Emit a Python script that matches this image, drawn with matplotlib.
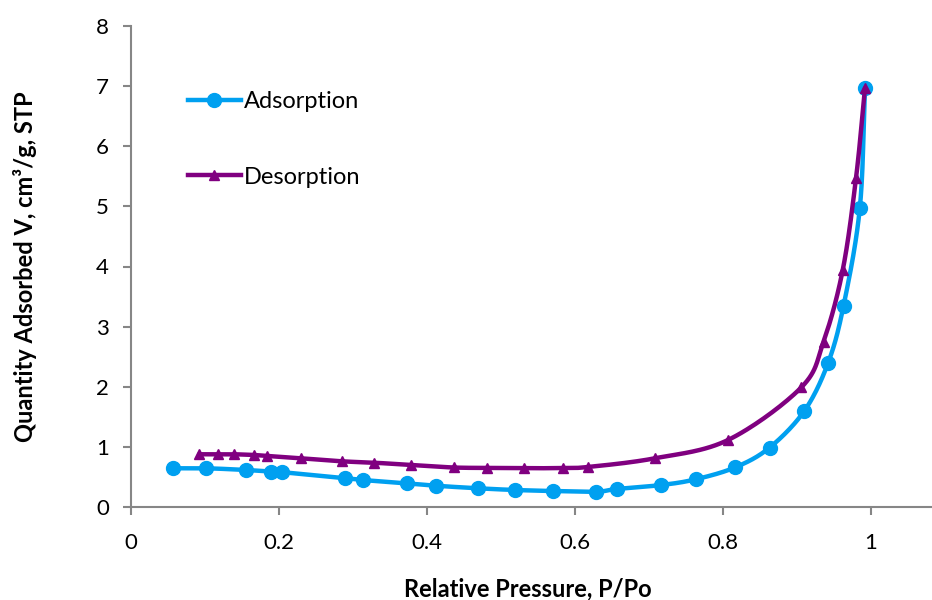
import matplotlib
matplotlib.use("Agg")
import matplotlib.pyplot as plt
import numpy as np

# isotherm data, P/Po vs quantity adsorbed (cm3/g STP)
ads_p = [0.057, 0.101, 0.155, 0.189, 0.204, 0.289, 0.313, 0.373, 0.412, 0.469,
         0.519, 0.570, 0.629, 0.657, 0.717, 0.763, 0.817, 0.863, 0.910, 0.942,
         0.963, 0.985, 0.992]
ads_v = [0.644, 0.644, 0.616, 0.588, 0.579, 0.479, 0.449, 0.394, 0.354, 0.311,
         0.283, 0.266, 0.255, 0.300, 0.366, 0.460, 0.661, 0.987, 1.597, 2.391,
         3.344, 4.968, 6.966]

des_p = [0.092, 0.117, 0.139, 0.166, 0.184, 0.230, 0.285, 0.328, 0.379, 0.436,
         0.481, 0.531, 0.584, 0.617, 0.708, 0.807, 0.906, 0.936, 0.962, 0.980,
         0.992]
des_v = [0.877, 0.877, 0.877, 0.865, 0.849, 0.810, 0.760, 0.737, 0.699, 0.657,
         0.650, 0.644, 0.649, 0.665, 0.810, 1.115, 1.990, 2.750, 3.944, 5.480,
         6.966]

x_ticks = [0, 0.2, 0.4, 0.6, 0.8, 1]
x_labels = ["0", "0.2", "0.4", "0.6", "0.8", "1"]
y_ticks = [0, 1, 2, 3, 4, 5, 6, 7, 8]

blue = "#00A0F0"
purple = "#800080"
grey = "#868686"

plt.rcParams["font.family"] = ["Lato", "DejaVu Sans"]


def smooth_curve(ax, xs, ys, n=30):
    # Catmull-Rom through the points, done in display space so the
    # curve looks even on screen
    pts = ax.transData.transform(np.column_stack([xs, ys]))
    pts = np.vstack([2 * pts[0] - pts[1], pts, 2 * pts[-1] - pts[-2]])
    out = []
    for i in range(1, len(pts) - 2):
        p0, p1, p2, p3 = pts[i - 1], pts[i], pts[i + 1], pts[i + 2]
        t = np.linspace(0, 1, n)[:, None]
        seg = 0.5 * ((2 * p1) + (-p0 + p2) * t
                     + (2 * p0 - 5 * p1 + 4 * p2 - p3) * t ** 2
                     + (-p0 + 3 * p1 - 3 * p2 + p3) * t ** 3)
        out.append(seg)
    out = np.vstack(out)
    data = ax.transData.inverted().transform(out)
    return data[:, 0], data[:, 1]


fig = plt.figure(figsize=(9.32, 6.0), dpi=100)
ax = fig.add_axes([131 / 932, 93 / 600, 1 - 131 / 932, 481 / 600])
ax.set_xlim(0, 1.0826)
ax.set_ylim(0, 8)

sx, sy = smooth_curve(ax, ads_p, ads_v)
ax.plot(sx, sy, color=blue, lw=3.2, solid_capstyle="round", zorder=2)
ax.plot(ads_p, ads_v, "o", color=blue, ms=10, zorder=3)

sx, sy = smooth_curve(ax, des_p, des_v)
ax.plot(sx, sy, color=purple, lw=3.2, solid_capstyle="round", zorder=4)
ax.plot(des_p, des_v, "^", color=purple, ms=7.5, zorder=5)

# legend handles
h1, = ax.plot([], [], "-o", color=blue, lw=3.2, ms=10)
h2, = ax.plot([], [], "-^", color=purple, lw=3.2, ms=7.5)
ax.legend([h1, h2], ["Adsorption", "Desorption"], loc="upper left",
          bbox_to_anchor=(0.059, 0.884), frameon=False, fontsize=17,
          handlelength=2.25, handletextpad=0.15, labelspacing=2.3,
          borderaxespad=0)

for side in ["top", "right"]:
    ax.spines[side].set_visible(False)
for side in ["left", "bottom"]:
    ax.spines[side].set_color(grey)
    ax.spines[side].set_linewidth(1.5)

ax.set_xticks(x_ticks)
ax.set_xticklabels(x_labels)
ax.set_yticks(y_ticks)
ax.tick_params(axis="both", colors=grey, width=1.5, length=6,
               labelsize=16, labelcolor="black", direction="out")
ax.tick_params(axis="x", pad=13)
ax.tick_params(axis="y", pad=10)

ax.set_xlabel("Relative Pressure, P/Po", fontsize=17, fontweight="bold")
ax.set_ylabel("Quantity Adsorbed V, cm³/g, STP", fontsize=17,
              fontweight="bold")
ax.xaxis.set_label_coords((528 - 131) / 801, -0.146)
ax.yaxis.set_label_coords(-0.117, 0.5)

fig.savefig("out.png", dpi=100)
